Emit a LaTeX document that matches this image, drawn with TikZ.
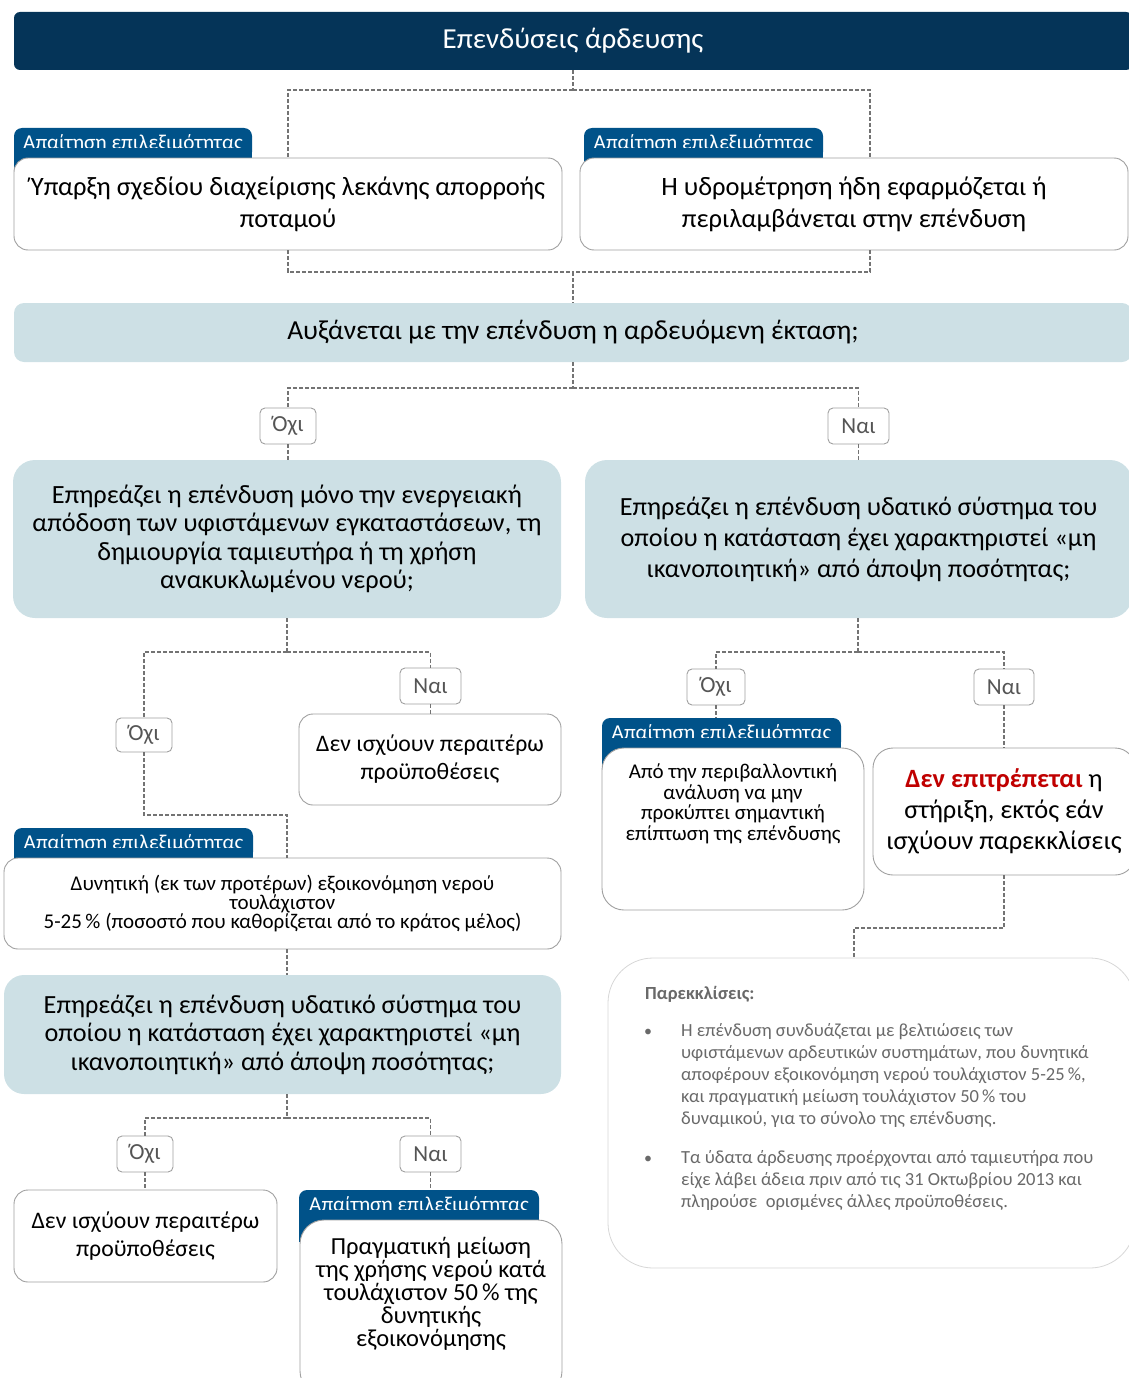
\documentclass[tikz,border=0pt]{standalone}
\usepackage{fontspec}
\setmainfont{Carlito}
\newcommand\fsz[2]{\fontsize{#1}{#2}\selectfont}
\definecolor{navy}{RGB}{5,52,88}
\definecolor{tabblue}{RGB}{0,82,137}
\definecolor{qblue}{RGB}{205,224,229}
\definecolor{boxgray}{RGB}{160,160,160}
\definecolor{labgray}{RGB}{85,85,85}
\definecolor{conngray}{RGB}{115,115,115}
\definecolor{redtxt}{RGB}{192,0,0}
\definecolor{exctxt}{RGB}{105,105,105}
\definecolor{excbord}{RGB}{215,215,215}
\begin{document}
\begin{tikzpicture}[x=1pt,y=-1pt,
  conn/.style={draw=conngray, line width=1.1pt, dash pattern=on 4pt off 2pt},
  wbox/.style={draw=boxgray, fill=white, line width=0.9pt, rounded corners=14pt, inner sep=0pt, align=center},
  qbox/.style={fill=qblue, rounded corners=#1, inner sep=0pt, align=center},
  qbox/.default=10pt,
  tabnode/.style={fill=tabblue, text=white, rounded corners=8pt, minimum height=32pt, inner sep=0pt, font=\fsz{21.2}{22}},
  lab/.style={draw=boxgray, fill=white, rounded corners=5pt, line width=0.9pt, text=labgray, inner sep=0pt, minimum height=36pt, font=\fsz{23}{24}},
]
\useasboundingbox (0,0) rectangle (1129,1378);
\clip (0,0) rectangle (1129,1378);

% title
\node[fill=navy, rounded corners=6pt, minimum width=1118pt, minimum height=58pt, inner sep=0pt, text=white, font=\fsz{29}{30}] (title) at (573,41) {Επενδύσεις άρδευσης};

% first requirement boxes
\node[tabnode, minimum width=238pt] (tL1) at (133,144) {Απαίτηση επιλεξιμότητας};
\fill[tabblue] ([yshift=12pt]tL1.south west) rectangle ([yshift=-20pt]tL1.south east);
\node[wbox, minimum width=548pt, minimum height=92pt, font=\fsz{26.5}{32}] (box1) at (288,204) {Ύπαρξη σχεδίου διαχείρισης λεκάνης απορροής\\ποταμού};

\node[tabnode, minimum width=239pt] (tR1) at (703.5,144) {Απαίτηση επιλεξιμότητας};
\fill[tabblue] ([yshift=12pt]tR1.south west) rectangle ([yshift=-20pt]tR1.south east);
\node[wbox, minimum width=548pt, minimum height=92pt, font=\fsz{26.5}{32}] (box2) at (854,204) {Η υδρομέτρηση ήδη εφαρμόζεται ή\\περιλαμβάνεται στην επένδυση};

% question 1
\node[qbox=10pt, minimum width=1118pt, minimum height=59pt, font=\fsz{27.5}{28}] (q1) at (573,332.5) {Αυξάνεται με την επένδυση η αρδευόμενη έκταση;};

% labels level 1
\node[lab, minimum width=56pt] (n1) at (288,426) {Όχι};
\node[lab, minimum width=61pt] (y1) at (858.5,426) {Ναι};

% big questions
\node[qbox=22pt, minimum width=548pt, minimum height=158pt, font=\fsz{26.3}{28.5}] (bigL) at (287,539) {Επηρεάζει η επένδυση μόνο την ενεργειακή\\απόδοση των υφιστάμενων εγκαταστάσεων, τη\\δημιουργία ταμιευτήρα ή τη χρήση\\ανακυκλωμένου νερού;};
\node[qbox=22pt, minimum width=547pt, minimum height=158pt, font=\fsz{26.2}{31}] (bigR) at (858.5,539) {Επηρεάζει η επένδυση υδατικό σύστημα του\\οποίου η κατάσταση έχει χαρακτηριστεί «μη\\ικανοποιητική» από άποψη ποσότητας;};

% left branch
\node[lab, minimum width=56pt, minimum height=34pt] (n2) at (144,735) {Όχι};
\node[lab, minimum width=61pt] (y2) at (430.5,686) {Ναι};
\node[wbox, minimum width=262pt, minimum height=91pt, font=\fsz{23.7}{28}] (nc1) at (430,759.5) {Δεν ισχύουν περαιτέρω\\προϋποθέσεις};

\node[tabnode, minimum width=239pt] (tL2) at (133.5,844) {Απαίτηση επιλεξιμότητας};
\fill[tabblue] ([yshift=12pt]tL2.south west) rectangle ([yshift=-20pt]tL2.south east);
\node[wbox, minimum width=557pt, minimum height=91pt, font=\fsz{21}{19.5}] (box3) at (282.5,903.5) {Δυνητική (εκ των προτέρων) εξοικονόμηση νερού\\τουλάχιστον\\5-25\,\% (ποσοστό που καθορίζεται από το κράτος μέλος)};

\node[qbox=20pt, minimum width=557pt, minimum height=119pt, font=\fsz{26.2}{28.5}] (q2) at (282.5,1034.5) {Επηρεάζει η επένδυση υδατικό σύστημα του\\οποίου η κατάσταση έχει χαρακτηριστεί «μη\\ικανοποιητική» από άποψη ποσότητας;};

\node[lab, minimum width=56pt] (n3) at (145,1154) {Όχι};
\node[lab, minimum width=61pt] (y3) at (430.5,1154) {Ναι};
\node[wbox, minimum width=263pt, minimum height=92pt, font=\fsz{23.7}{28}] (nc2) at (145.5,1236) {Δεν ισχύουν περαιτέρω\\προϋποθέσεις};

\node[tabnode, minimum width=240pt] (tL3) at (419,1206) {Απαίτηση επιλεξιμότητας};
\fill[tabblue] ([yshift=12pt]tL3.south west) rectangle ([yshift=-20pt]tL3.south east);
\node[wbox, rounded corners=24pt, minimum width=262pt, minimum height=175pt] (box4) at (431,1307.5) {};
\node[inner sep=0pt, align=center, font=\fsz{24.5}{23}] (box4t) at (431,1294) {Πραγματική μείωση\\της χρήσης νερού κατά\\τουλάχιστον 50\,\% της\\δυνητικής\\εξοικονόμησης};

% right branch
\node[lab, minimum width=58pt] (n4) at (716,687) {Όχι};
\node[lab, minimum width=60pt] (y4) at (1004,687) {Ναι};

\node[tabnode, minimum width=239pt] (tR2) at (721.5,734) {Απαίτηση επιλεξιμότητας};
\fill[tabblue] ([yshift=12pt]tR2.south west) rectangle ([yshift=-20pt]tR2.south east);
\node[wbox, rounded corners=22pt, minimum width=262pt, minimum height=162pt] (env) at (733,829) {};
\node[inner sep=0pt, align=center, font=\fsz{21}{20.5}] (envt) at (733,804) {Από την περιβαλλοντική\\ανάλυση να μην\\προκύπτει σημαντική\\επίπτωση της επένδυσης};

\node[wbox, rounded corners=20pt, minimum width=262pt, minimum height=127pt, font=\fsz{26.4}{31}] (red) at (1004,811.5) {\textcolor{redtxt}{\textbf{Δεν επιτρέπεται}} η\\στήριξη, εκτός εάν\\ισχύουν παρεκκλίσεις};

% exceptions
\node[draw=excbord, fill=white, line width=0.8pt, rounded corners=45pt, minimum width=527pt, minimum height=310pt, inner sep=0pt] (exc) at (871.5,1113) {};
\node[anchor=base west, inner sep=0pt, text=exctxt, font=\fsz{18.5}{22}\bfseries] (exch) at (645,999) {Παρεκκλίσεις:};
\node[anchor=base west, inner sep=0pt, text=exctxt, font=\fsz{16}{22}] (bul1) at (644,1036) {•};
\node[anchor=north west, inner sep=0pt, align=left, text=exctxt, font=\fsz{18.5}{22}] (exc1) at (681,1023) {Η επένδυση συνδυάζεται με βελτιώσεις των\\υφιστάμενων αρδευτικών συστημάτων, που δυνητικά\\αποφέρουν εξοικονόμηση νερού τουλάχιστον 5-25\,\%,\\και πραγματική μείωση τουλάχιστον 50\,\% του\\δυναμικού, για το σύνολο της επένδυσης.};
\node[anchor=base west, inner sep=0pt, text=exctxt, font=\fsz{16}{22}] (bul2) at (644,1163) {•};
\node[anchor=north west, inner sep=0pt, align=left, text=exctxt, font=\fsz{18.5}{22}] (exc2) at (681,1150) {Τα ύδατα άρδευσης προέρχονται από ταμιευτήρα που\\είχε λάβει άδεια πριν από τις 31 Οκτωβρίου 2013 και\\πληρούσε\ \ ορισμένες άλλες προϋποθέσεις.};

% connectors
\coordinate (j1) at (573,90);
\draw[conn] (title.south) -- (j1);
\draw[conn] (j1) -| (box1.north);
\draw[conn] (j1) -| ([xshift=16pt]box2.north);
\coordinate (j2) at (573,272);
\draw[conn] (box1.south) |- (j2);
\draw[conn] ([xshift=16pt]box2.south) |- (j2);
\draw[conn] (j2) -- (q1.north);
\coordinate (j3) at (573,388);
\draw[conn] (q1.south) -- (j3);
\draw[conn] (j3) -| (n1.north);
\draw[conn] (j3) -| (y1.north);
\draw[conn] (n1.south) -- (n1.south |- bigL.north);
\draw[conn] (y1.south) -- (y1.south |- bigR.north);

\coordinate (j4) at (287,652);
\draw[conn] (bigL.south) -- (j4);
\draw[conn] (j4) -| (n2.north);
\draw[conn] (j4) -| (y2.north);
\draw[conn] (y2.south) -- (y2.south |- nc1.north);
\coordinate (j5) at (287,815);
\draw[conn] (n2.south) |- (j5) -- (j5 |- box3.north);
\draw[conn] (j5 |- box3.south) -- (j5 |- q2.north);
\coordinate (j6) at (287,1118);
\draw[conn] (j6 |- q2.south) -- (j6);
\draw[conn] (j6) -| (n3.north);
\draw[conn] (j6) -| (y3.north);
\draw[conn] (n3.south) -- (n3.south |- nc2.north);
\draw[conn] (y3.south) -- (y3.south |- tL3.north);

\coordinate (j7) at (858,652);
\draw[conn] (j7 |- bigR.south) -- (j7);
\draw[conn] (j7) -| (n4.north);
\draw[conn] (j7) -| (y4.north);
\draw[conn] (n4.south) -- (n4.south |- tR2.north);
\draw[conn] (y4.south) -- (y4.south |- red.north);
\coordinate (j8) at (854,928);
\draw[conn] (red.south) |- (j8) -- (j8 |- exc.north);
\end{tikzpicture}
\end{document}
